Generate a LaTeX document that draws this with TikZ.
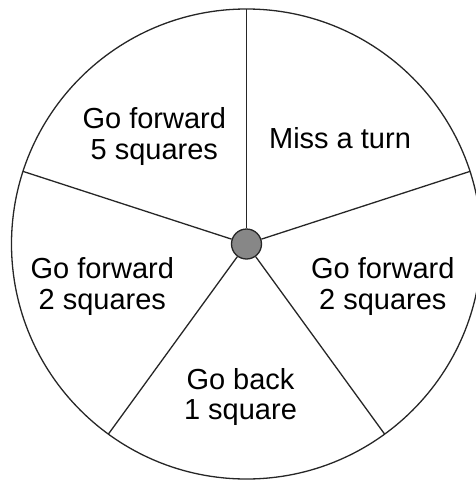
\documentclass[tikz,border=0pt]{standalone}
\usepackage{fontspec}
\setmainfont{Liberation Sans}
\begin{document}
\begin{tikzpicture}[x=1pt,y=-1pt,
  rim/.style={draw=black!85,line width=1.3pt},
  spoke/.style={draw=black!85,line width=1.3pt},
  hub/.style={circle,draw=black!85,line width=1.3pt,fill=black!47,minimum size=30pt,inner sep=0pt},
  lab/.style={font=\fontsize{29}{30.7}\selectfont,align=center,anchor=base,inner sep=0pt}]
\useasboundingbox (0,0) rectangle (475,480);
\coordinate (c) at (246.5,244);
\draw[rim] (c) circle[radius=235pt];
\path (c) ++(90:235pt) coordinate (s1);
\path (c) ++(18:235pt) coordinate (s2);
\path (c) ++(-54:235pt) coordinate (s3);
\path (c) ++(-126:235pt) coordinate (s4);
\path (c) ++(162:235pt) coordinate (s5);
\node[hub] (h) at (c) {};
\foreach \n in {s1,s2,s3,s4,s5}{\draw[spoke] (h) -- (\n);}
\node[lab] (t1) at (154.3,159) {Go forward\\5 squares};
\node[lab] (t2) at (340,148.3) {Miss a turn};
\node[lab] (t3) at (382.8,309.3) {Go forward\\2 squares};
\node[lab] (t4) at (240.5,419.7) {Go back\\1 square};
\node[lab] (t5) at (102.3,309.3) {Go forward\\2 squares};
\end{tikzpicture}
\end{document}
